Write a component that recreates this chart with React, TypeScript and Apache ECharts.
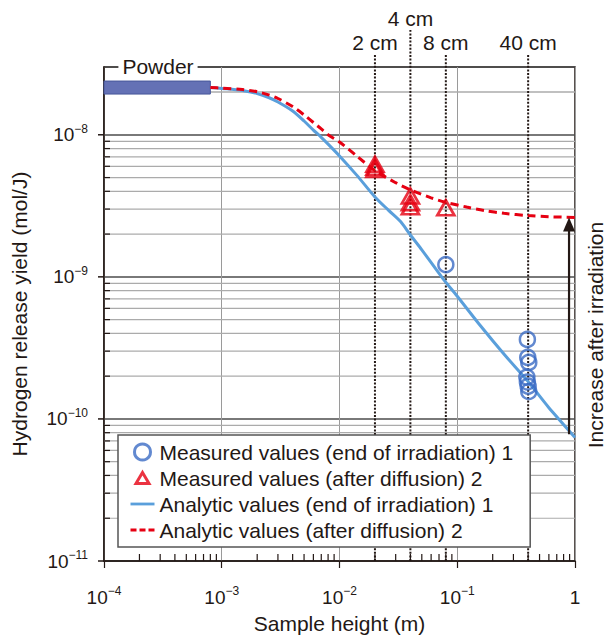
import React, { useEffect, useRef } from 'react';
import * as echarts from 'echarts';

// ---- axis ranges ----
const xMin = 1e-4;
const xMax = 1;
const yMin = 1e-11;
const yMax = 3e-8;
const yDecades = [1e-11, 1e-10, 1e-9, 1e-8];
const minorMultipliers = [2, 3, 4, 5, 6, 7, 8, 9];

// ---- powder reference ----
const powderFrom = 1e-4;
const powderTo = 8e-4;
const powderYield = 2.15e-8;

// ---- analytic curves ----
const analyticEndX = [8e-4, 1e-3, 1.5e-3, 2e-3, 2.5e-3, 3e-3, 4e-3, 5e-3, 6e-3, 7e-3, 8e-3, 1e-2, 1.4e-2, 2e-2, 2.6e-2, 3.3e-2, 4e-2, 5e-2, 7.5e-2, 0.1, 0.16, 0.25, 0.4, 0.6, 1];
const analyticEndY = [2.15e-8, 2.12e-8, 2.05e-8, 1.95e-8, 1.83e-8, 1.7e-8, 1.47e-8, 1.25e-8, 1.08e-8, 9.6e-9, 8.6e-9, 7.1e-9, 5.2e-9, 3.65e-9, 2.95e-9, 2.45e-9, 1.97e-9, 1.55e-9, 9.8e-10, 7.3e-10, 4.45e-10, 2.85e-10, 1.83e-10, 1.2e-10, 7.4e-11];
const analyticDiffX = [8e-4, 1e-3, 1.5e-3, 2e-3, 2.5e-3, 3e-3, 4e-3, 5e-3, 6e-3, 7e-3, 8e-3, 1e-2, 1.4e-2, 2e-2, 3e-2, 4e-2, 6e-2, 8e-2, 0.12, 0.17, 0.25, 0.4, 0.6, 1];
const analyticDiffY = [2.15e-8, 2.13e-8, 2.08e-8, 2.01e-8, 1.91e-8, 1.8e-8, 1.58e-8, 1.38e-8, 1.22e-8, 1.1e-8, 1.0e-8, 8.9e-9, 7.1e-9, 5.6e-9, 4.6e-9, 4.1e-9, 3.6e-9, 3.35e-9, 3.1e-9, 2.93e-9, 2.8e-9, 2.7e-9, 2.65e-9, 2.62e-9];

// ---- measured values ----
const measuredEndX = [0.08, 0.394, 0.397, 0.405, 0.39, 0.394, 0.4, 0.405];
const measuredEndY = [1.22e-9, 3.63e-10, 2.71e-10, 2.5e-10, 1.97e-10, 1.82e-10, 1.7e-10, 1.56e-10];
const measuredDiffX = [0.02, 0.02, 0.02, 0.04, 0.04, 0.04, 0.08];
const measuredDiffY = [6.2e-9, 5.9e-9, 5.7e-9, 3.71e-9, 3.32e-9, 3.11e-9, 3.06e-9];

// ---- sample heights ----
const sampleHeights = [0.02, 0.04, 0.08, 0.4];
const sampleLabels = ['2 cm', '4 cm', '8 cm', '40 cm'];

// ---- increase arrow ----
const arrowX = 0.89;
const arrowFrom = 7.8e-11;
const arrowTo = 2.62e-9;

const names = {
  mEnd: 'Measured values (end of irradiation) 1',
  mDiff: 'Measured values (after diffusion) 2',
  aEnd: 'Analytic values (end of irradiation) 1',
  aDiff: 'Analytic values (after diffusion) 2',
};

const FONT = '"Liberation Sans", Arial, Helvetica, sans-serif';
const INK = '#231815';
const BLUE_M = '#3b6cc4';
const BLUE_L = '#5a9fdb';
const RED = '#e60012';

// legend icon shapes (bounding box 24x16 kept by the invisible move-tos)
const ICON_BOX = 'M0,0 M24,16 ';
const ICON_LINE = 'path://' + ICON_BOX + 'M0,6.6 H24 V9.4 H0 Z';
const ICON_DASH = 'path://' + ICON_BOX + 'M0,6.6 H6 V9.4 H0 Z M9,6.6 H15 V9.4 H9 Z M18,6.6 H24 V9.4 H18 Z';
const ICON_TRI = 'path://' + ICON_BOX + 'M12,2.5 L18.5,13.5 L5.5,13.5 Z';

const zip = (a: number[], b: number[]) => a.map((v, i) => [v, b[i]]);

const yMinorValues: number[] = [];
yDecades.forEach((d) => {
  minorMultipliers.forEach((m) => {
    const v = d * m;
    if (v < yMax * 0.999) yMinorValues.push(v);
  });
});
yMinorValues.push(2e-8);
const xMinorValues: number[] = [];
[1e-4, 1e-3, 1e-2, 1e-1].forEach((d) => minorMultipliers.forEach((m) => xMinorValues.push(d * m)));

const isDecade = (v: number) => {
  const e = Math.log10(v);
  return Math.abs(e - Math.round(e)) < 1e-6;
};
const powLabel = (v: number) => {
  if (!isDecade(v)) return '';
  const e = Math.round(Math.log10(v));
  if (e === 0) return '{b|1}';
  return '{b|10}{s|\u2212' + -e + '}';
};
const richLabel = {
  b: { fontSize: 19, fontFamily: FONT, color: INK, lineHeight: 24 },
  s: { fontSize: 12, fontFamily: FONT, color: INK, lineHeight: 12, verticalAlign: 'top' },
};

export default function App() {
  const ref = useRef<HTMLDivElement>(null);
  useEffect(() => {
    if (!ref.current) return;
    const chart = echarts.init(ref.current, undefined, { renderer: 'svg' });
    const option: any = {
      animation: false,
      backgroundColor: '#fff',
      textStyle: { fontFamily: FONT },
      grid: {
        left: 104,
        right: 31,
        top: 67,
        bottom: 71,
        show: true,
        borderColor: INK,
        borderWidth: 1.5,
        backgroundColor: '#fff',
      },
      legend: {
        orient: 'vertical',
        left: 118,
        top: 435,
        padding: [6, 17, 6, 11],
        itemWidth: 24,
        itemHeight: 16,
        itemGap: 4,
        backgroundColor: '#fff',
        borderColor: '#555',
        borderWidth: 1.5,
        borderRadius: 0,
        textStyle: { fontSize: 21, fontFamily: FONT, color: INK, lineHeight: 22 },
        data: [
          { name: names.mEnd, icon: 'circle', itemStyle: { borderWidth: 3 } },
          { name: names.mDiff, icon: ICON_TRI, itemStyle: { borderWidth: 3 } },
          { name: names.aEnd, icon: ICON_LINE },
          { name: names.aDiff, icon: ICON_DASH },
        ],
        z: 20,
      },
      xAxis: {
        type: 'log',
        logBase: 10,
        min: xMin,
        max: xMax,
        name: 'Sample height (m)',
        nameLocation: 'middle',
        nameGap: 52,
        nameTextStyle: { fontSize: 21, fontFamily: FONT, color: INK },
        axisLine: { show: true, lineStyle: { color: INK, width: 1.5 } },
        axisTick: { show: true, inside: false, length: 7, lineStyle: { color: INK, width: 1.2 } },
        axisLabel: { margin: 24, formatter: powLabel, rich: richLabel },
        splitLine: { show: true, lineStyle: { color: '#9a9a9a', width: 1 } },
        minorTick: { show: false },
      },
      yAxis: {
        type: 'log',
        logBase: 10,
        min: yMin,
        max: yMax,
        name: 'Hydrogen release yield (mol/J)',
        nameLocation: 'middle',
        nameGap: 74,
        nameTextStyle: { fontSize: 21, fontFamily: FONT, color: INK },
        axisLine: { show: true, lineStyle: { color: INK, width: 1.5 } },
        axisTick: { show: false },
        axisLabel: { margin: 16, formatter: powLabel, rich: richLabel },
        splitLine: { show: true, lineStyle: { color: '#4d4d4d', width: 1.5 } },
      },
      graphic: [
        {
          type: 'text',
          x: 158,
          y: 66,
          z: 100,
          style: {
            text: 'Powder',
            fontSize: 21,
            fontFamily: FONT,
            fill: INK,
            align: 'center',
            verticalAlign: 'middle',
            backgroundColor: '#fff',
            padding: [1, 4, 1, 4],
          },
        },
        {
          type: 'text',
          x: 595,
          y: 335,
          rotation: Math.PI / 2,
          z: 100,
          style: {
            text: 'Increase after irradiation',
            fontSize: 21,
            fontFamily: FONT,
            fill: INK,
            align: 'center',
            verticalAlign: 'middle',
          },
        },
      ],
      series: [
        {
          name: 'minorGridY',
          type: 'custom',
          z: 1,
          silent: true,
          clip: false,
          data: yMinorValues.map((v) => [xMin, v]),
          renderItem: (params: any, api: any) => {
            const v = api.value(1);
            const p0 = api.coord([xMin, v]);
            const p1 = api.coord([xMax, v]);
            return {
              type: 'group',
              children: [
                { type: 'line', shape: { x1: p0[0], y1: p0[1], x2: p1[0], y2: p1[1] }, style: { stroke: '#ababab', lineWidth: 1.2 } },
                { type: 'line', shape: { x1: p0[0], y1: p0[1], x2: p0[0] + 6, y2: p0[1] }, style: { stroke: INK, lineWidth: 1.2 } },
              ],
            };
          },
        },
        {
          name: 'majorTicksY',
          type: 'custom',
          z: 3,
          silent: true,
          clip: false,
          data: yDecades.map((v) => [xMin, v]),
          renderItem: (params: any, api: any) => {
            const p0 = api.coord([xMin, api.value(1)]);
            return { type: 'line', shape: { x1: p0[0] - 6, y1: p0[1], x2: p0[0], y2: p0[1] }, style: { stroke: INK, lineWidth: 1.5 } };
          },
        },
        {
          name: 'minorTicksX',
          type: 'custom',
          z: 3,
          silent: true,
          clip: false,
          data: xMinorValues.map((v) => [v, yMin]),
          renderItem: (params: any, api: any) => {
            const p0 = api.coord([api.value(0), yMin]);
            return { type: 'line', shape: { x1: p0[0], y1: p0[1], x2: p0[0], y2: p0[1] - 7 }, style: { stroke: INK, lineWidth: 1.2 } };
          },
        },
        {
          name: 'sampleMarks',
          type: 'custom',
          z: 2,
          silent: true,
          clip: false,
          data: sampleHeights.map((h) => [h, yMin]),
          renderItem: (params: any, api: any) => {
            const i = params.dataIndex;
            const h = api.value(0);
            const b = api.coord([h, yMin]);
            const t = api.coord([h, yMax]);
            const ext = i === 1 ? 37 : 13;
            const topY = t[1] - ext;
            return {
              type: 'group',
              children: [
                { type: 'line', shape: { x1: b[0], y1: b[1], x2: b[0], y2: topY }, style: { stroke: INK, lineWidth: 2, lineDash: [2, 1.6] } },
                {
                  type: 'text',
                  style: { text: sampleLabels[i], x: b[0], y: topY - 1, align: 'center', verticalAlign: 'bottom', fontSize: 21, fontFamily: FONT, fill: INK },
                },
              ],
            };
          },
        },
        {
          name: 'powder',
          type: 'custom',
          z: 4,
          silent: true,
          clip: false,
          data: [[powderFrom, powderYield, powderTo]],
          renderItem: (params: any, api: any) => {
            const p0 = api.coord([api.value(0), api.value(1)]);
            const p1 = api.coord([api.value(2), api.value(1)]);
            return {
              type: 'rect',
              shape: { x: p0[0], y: p0[1] - 6.5, width: p1[0] - p0[0], height: 13 },
              style: { fill: '#6471b5', stroke: '#45569a', lineWidth: 1 },
            };
          },
        },
        {
          name: names.aEnd,
          type: 'line',
          z: 5,
          data: zip(analyticEndX, analyticEndY),
          symbol: 'none',
          showSymbol: false,
          smooth: 0.3,
          lineStyle: { color: BLUE_L, width: 3 },
          itemStyle: { color: BLUE_L },
        },
        {
          name: names.aDiff,
          type: 'line',
          z: 6,
          data: zip(analyticDiffX, analyticDiffY),
          symbol: 'none',
          showSymbol: false,
          smooth: 0.3,
          lineStyle: { color: RED, width: 3, type: [8, 5] },
          itemStyle: { color: RED },
        },
        {
          name: names.mEnd,
          type: 'scatter',
          z: 7,
          data: zip(measuredEndX, measuredEndY),
          symbol: 'circle',
          symbolSize: 15,
          itemStyle: { color: 'transparent', borderColor: BLUE_M, borderWidth: 2.5 },
        },
        {
          name: names.mDiff,
          type: 'scatter',
          z: 7,
          data: zip(measuredDiffX, measuredDiffY),
          symbol: 'triangle',
          symbolSize: [17, 15],
          itemStyle: { color: 'transparent', borderColor: RED, borderWidth: 2.7 },
        },
        {
          name: 'increaseArrow',
          type: 'custom',
          z: 8,
          silent: true,
          clip: false,
          data: [[arrowX, arrowFrom, arrowTo]],
          renderItem: (params: any, api: any) => {
            const p0 = api.coord([api.value(0), api.value(1)]);
            const p1 = api.coord([api.value(0), api.value(2)]);
            return {
              type: 'group',
              children: [
                { type: 'line', shape: { x1: p0[0], y1: p0[1], x2: p1[0], y2: p1[1] + 12 }, style: { stroke: INK, lineWidth: 2.2 } },
                { type: 'polygon', shape: { points: [[p1[0] - 6, p1[1] + 14], [p1[0] + 6, p1[1] + 14], [p1[0], p1[1]]] }, style: { fill: INK } },
              ],
            };
          },
        },
      ],
    };
    chart.setOption(option);
    return () => chart.dispose();
  }, []);
  return <div ref={ref} style={{ position: 'absolute', left: 0, top: 0, width: 606, height: 639 }} />;
}
